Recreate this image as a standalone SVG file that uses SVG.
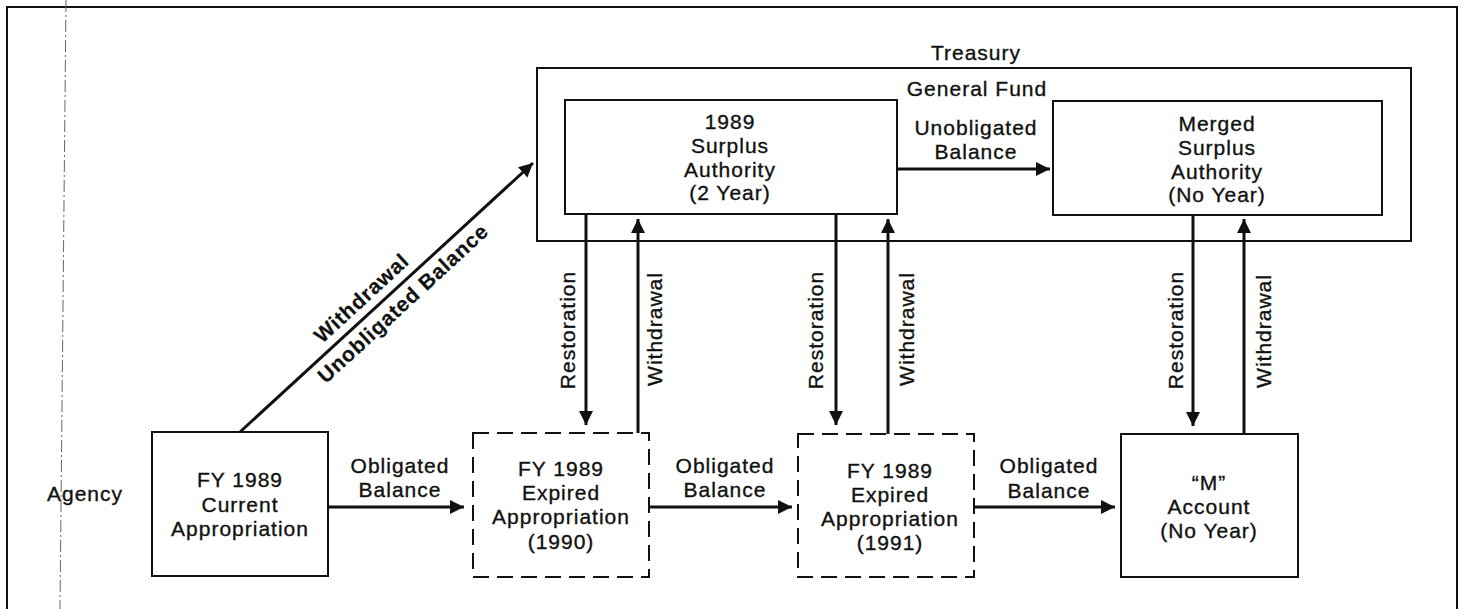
<svg xmlns="http://www.w3.org/2000/svg" width="1462" height="609" viewBox="0 0 1462 609">
<style>
  text { font-family: "Liberation Sans", Arial, Helvetica, sans-serif; font-size: 21px; fill: #111; stroke: #111; stroke-width: 0.35; text-anchor: middle; letter-spacing: 1px; }
  .b { font-weight: bold; letter-spacing: 0.8px; stroke-width: 0.2; }
  .box { fill: #fff; stroke: #111; stroke-width: 2; }
  .dbox { fill: #fff; stroke: #111; stroke-width: 2; stroke-dasharray: 16 8; }
  .frame { fill: none; stroke: #111; stroke-width: 2; }
  .fold { fill: none; stroke: #666; stroke-width: 1; stroke-dasharray: 12 3 2 3; }
  .arr { fill: none; stroke: #111; stroke-width: 3; marker-end: url(#ah); }
</style>
<defs>
  <marker id="ah" viewBox="0 0 14 14" refX="14" refY="7" markerWidth="14" markerHeight="14" markerUnits="userSpaceOnUse" orient="auto">
    <path d="M0,0 L14,7 L0,14 z" fill="#111"/>
  </marker>
</defs>
<rect x="0" y="0" width="1462" height="609" fill="#fff"/>
<g id="frame">
  <path class="frame" d="M7,609 L7,7 L1457,7 L1457,609"/>
  <line class="fold" x1="66" y1="0" x2="60" y2="609"/>
</g>
<g id="treasury">
  <text x="976" y="60">Treasury</text>
  <rect class="box" x="537" y="68" width="874" height="173"/>
  <text x="977" y="96">General Fund</text>
</g>
<g id="surplus1989">
  <rect class="box" x="565" y="100" width="332" height="114"/>
  <text x="730" y="129">1989</text>
  <text x="730" y="153">Surplus</text>
  <text x="730" y="177">Authority</text>
  <text x="730" y="200">(2 Year)</text>
</g>
<g id="merged">
  <rect class="box" x="1053" y="101" width="329" height="114"/>
  <text x="1217" y="131">Merged</text>
  <text x="1217" y="155">Surplus</text>
  <text x="1217" y="179">Authority</text>
  <text x="1217" y="202">(No Year)</text>
</g>
<g id="agency">
  <text x="85" y="501">Agency</text>
</g>
<g id="current">
  <rect class="box" x="152" y="432" width="176" height="144"/>
  <text x="240" y="487">FY 1989</text>
  <text x="240" y="512">Current</text>
  <text x="240" y="536">Appropriation</text>
</g>
<g id="expired1990">
  <rect class="dbox" x="473" y="433" width="176" height="144"/>
  <text x="561" y="476">FY 1989</text>
  <text x="561" y="500">Expired</text>
  <text x="561" y="524">Appropriation</text>
  <text x="561" y="549">(1990)</text>
</g>
<g id="expired1991">
  <rect class="dbox" x="798" y="434" width="176" height="143"/>
  <text x="890" y="478">FY 1989</text>
  <text x="890" y="502">Expired</text>
  <text x="890" y="526">Appropriation</text>
  <text x="890" y="550">(1991)</text>
</g>
<g id="maccount">
  <rect class="box" x="1121" y="434" width="177" height="143"/>
  <text x="1209" y="490">“M”</text>
  <text x="1209" y="514">Account</text>
  <text x="1209" y="538">(No Year)</text>
</g>
<g id="connectors">
  <line class="arr" x1="240" y1="432" x2="533" y2="163"/>
  <g transform="translate(240,432) rotate(-42.65)">
    <text class="b" x="180" y="-9">Withdrawal</text>
    <text class="b" x="207" y="23">Unobligated Balance</text>
  </g>
  <line class="arr" x1="897" y1="169" x2="1050" y2="169"/>
  <text x="976" y="135">Unobligated</text>
  <text x="976" y="159">Balance</text>

  <line class="arr" x1="328" y1="507" x2="464" y2="507"/>
  <text x="400" y="473">Obligated</text>
  <text x="400" y="497">Balance</text>
  <line class="arr" x1="649" y1="507" x2="792" y2="507"/>
  <text x="725" y="473">Obligated</text>
  <text x="725" y="497">Balance</text>
  <line class="arr" x1="974" y1="507" x2="1115" y2="507"/>
  <text x="1049" y="473">Obligated</text>
  <text x="1049" y="498">Balance</text>

  <line class="arr" x1="586" y1="214" x2="586" y2="425"/>
  <text transform="translate(575,330) rotate(-90)">Restoration</text>
  <line class="arr" x1="638" y1="433" x2="638" y2="219"/>
  <text transform="translate(662,329) rotate(-90)">Withdrawal</text>

  <line class="arr" x1="836" y1="214" x2="836" y2="425"/>
  <text transform="translate(823,330) rotate(-90)">Restoration</text>
  <line class="arr" x1="888" y1="434" x2="888" y2="219"/>
  <text transform="translate(914,329) rotate(-90)">Withdrawal</text>

  <line class="arr" x1="1193" y1="215" x2="1193" y2="426"/>
  <text transform="translate(1183,330) rotate(-90)">Restoration</text>
  <line class="arr" x1="1244" y1="434" x2="1244" y2="219"/>
  <text transform="translate(1271,331) rotate(-90)">Withdrawal</text>
</g>
</svg>
